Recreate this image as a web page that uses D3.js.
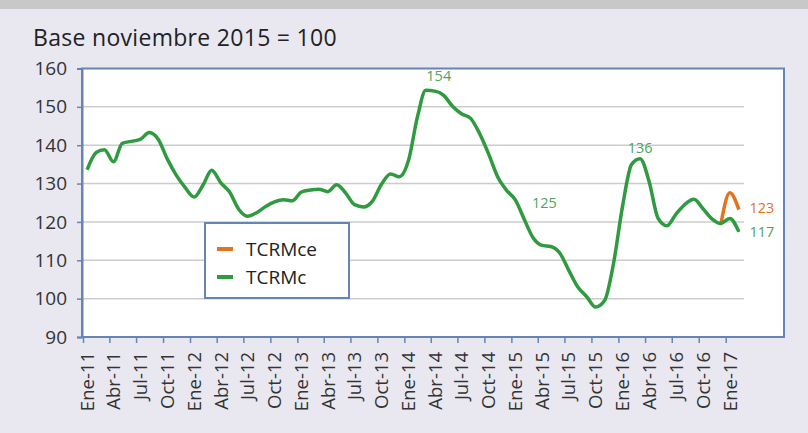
<!DOCTYPE html>
<html>
<head>
<meta charset="UTF-8">
<title>TCRM</title>
<script src="https://cdn.jsdelivr.net/npm/d3@7"></script>
<style>
  body { margin: 0; background: #e9e8f1; }
  svg { display: block; font-family: "Open Sans", sans-serif; }
</style>
</head>
<body>
<script>
// indice mensual, enero 2011 a febrero 2017 (base nov 2015 = 100)
var primerMes = [2011, 0];
var tcrmc = [
  133.6, 138.1, 138.8, 135.7, 140.5, 141.0, 141.5, 143.3, 141.5, 136.5, 132.2, 129.0,
  126.5, 129.7, 133.5, 130.2, 127.8, 123.3, 121.5, 122.4, 124.0, 125.2, 125.8, 125.5,
  127.8, 128.3, 128.5, 127.9, 129.7, 127.5, 124.5, 123.9, 125.5, 129.8, 132.5, 131.8,
  136.0, 147.5, 154.3, 154.1, 153.0, 150.1, 148.2, 147.0, 143.0, 137.8, 131.8, 128.3,
  125.7, 120.5, 116.0, 113.9, 113.6, 111.9, 107.5, 103.1, 100.5, 97.8, 99.5, 109.0,
  124.0, 135.0, 136.5, 130.5, 121.0, 119.0, 122.0, 124.6, 125.9, 123.5, 120.8, 119.6,
  120.9, 117.4
];
// TCRMce: dic-16 a feb-17
var tcrmceInicio = 71;
var tcrmce = [119.2, 127.6, 123.2];

var yTicks = [90, 100, 110, 120, 130, 140, 150, 160];
var xTickLabels = ["Ene-11", "Abr-11", "Jul-11", "Oct-11", "Ene-12", "Abr-12", "Jul-12", "Oct-12",
  "Ene-13", "Abr-13", "Jul-13", "Oct-13", "Ene-14", "Abr-14", "Jul-14", "Oct-14",
  "Ene-15", "Abr-15", "Jul-15", "Oct-15", "Ene-16", "Abr-16", "Jul-16", "Oct-16", "Ene-17"];

// etiquetas de valores: [texto, indice del mes, serie]
var notas = [["154", 38, "c"], ["125", 48, "c"], ["136", 62, "c"], ["123", 73, "ce"], ["117", 73, "c"]];

var verde = "#2f9a3f", verdeTxt = "#52a35a", naranja = "#e4731f", azul = "#6585b6";

function fecha(i) { return new Date(primerMes[0], primerMes[1] + i, 15); }

var W = 808, H = 433;
var svg = d3.select("body").append("svg").attr("width", W).attr("height", H);

svg.append("rect").attr("x", 0).attr("y", 0).attr("width", W).attr("height", 9).attr("fill", "#c8c8c8");

svg.append("text").attr("x", 33).attr("y", 46).attr("font-size", 23).attr("letter-spacing", 0.3)
  .attr("fill", "#222")
  .text("Base noviembre 2015 = 100");

var x = d3.scaleTime()
  .domain([new Date(2011, 0, 1), new Date(2017, 2, 1)])
  .range([83, 743]);
var y = d3.scaleLinear().domain([90, 160]).range([337, 68.5]);

// marco
svg.append("rect").attr("x", 82).attr("y", 68.5).attr("width", 702).attr("height", 268.5)
  .attr("fill", "#fff").attr("stroke", azul).attr("stroke-width", 2);

// lineas de cuadricula
svg.append("g").selectAll("line").data(yTicks.filter(function (d) { return d > 90 && d < 160; }))
  .enter().append("line")
  .attr("x1", 83).attr("x2", 744)
  .attr("y1", function (d) { return y(d); }).attr("y2", function (d) { return y(d); })
  .attr("stroke", "#cccccc").attr("stroke-width", 1.5);

// eje y
var yAxis = svg.append("g").attr("transform", "translate(82,0)")
  .call(d3.axisLeft(y).tickValues(yTicks).tickSize(5).tickPadding(10));
yAxis.select(".domain").attr("stroke", azul).attr("stroke-width", 2);
yAxis.selectAll(".tick line").attr("stroke", azul).attr("stroke-width", 1.5);
yAxis.selectAll("text").attr("font-size", 19).attr("fill", "#333").attr("font-family", "Open Sans");

// eje x
var xTickDates = xTickLabels.map(function (d, i) { return new Date(2011, i * 3, 1); });
var xAxis = svg.append("g").attr("transform", "translate(0,337)")
  .call(d3.axisBottom(x).tickValues(xTickDates).tickSize(6)
    .tickFormat(function (d, i) { return xTickLabels[i]; }));
xAxis.select(".domain").attr("stroke", azul).attr("stroke-width", 2).attr("d", "M82,0H784");
xAxis.selectAll(".tick line").attr("stroke", azul).attr("stroke-width", 1.5);
xAxis.selectAll("text")
  .attr("font-size", 18.5).attr("fill", "#333").attr("font-family", "Open Sans")
  .attr("text-anchor", "end")
  .attr("transform", "rotate(-90)")
  .attr("x", -15).attr("y", 4).attr("dy", "0.35em");

var linea = d3.line()
  .x(function (d) { return x(d[0]); })
  .y(function (d) { return y(d[1]); })
  .curve(d3.curveMonotoneX);

var datosC = tcrmc.map(function (v, i) { return [fecha(i), v]; });
var datosCe = tcrmce.map(function (v, i) { return [fecha(tcrmceInicio + i), v]; });

svg.append("path").datum(datosCe).attr("d", linea)
  .attr("fill", "none").attr("stroke", naranja).attr("stroke-width", 3.5).attr("stroke-linejoin", "round");
svg.append("path").datum(datosC).attr("d", linea)
  .attr("fill", "none").attr("stroke", verde).attr("stroke-width", 3.5).attr("stroke-linejoin", "round");

// etiquetas
var desplaz = { "154": [13, -14], "125": [29, 3], "136": [0, -11], "123": [23, -2], "117": [23, 0] };
svg.append("g").selectAll("text").data(notas).enter().append("text")
  .attr("x", function (d) { return x(fecha(d[1])) + desplaz[d[0]][0]; })
  .attr("y", function (d) {
    var v = d[2] === "c" ? tcrmc[d[1]] : tcrmce[d[1] - tcrmceInicio];
    return y(v) + desplaz[d[0]][1];
  })
  .attr("text-anchor", "middle").attr("dy", "0.35em").attr("font-size", 14.5)
  .attr("fill", function (d) { return d[2] === "c" ? verdeTxt : naranja; })
  .text(function (d) { return d[0]; });

// leyenda
var ley = svg.append("g");
ley.append("rect").attr("x", 205).attr("y", 223).attr("width", 144).attr("height", 75)
  .attr("fill", "#fff").attr("stroke", azul).attr("stroke-width", 2);
var items = [["TCRMce", naranja], ["TCRMc", verde]];
items.forEach(function (it, i) {
  var cy = 249 + i * 28;
  ley.append("line").attr("x1", 217).attr("x2", 233).attr("y1", cy).attr("y2", cy)
    .attr("stroke", it[1]).attr("stroke-width", 4);
  ley.append("text").attr("x", 246).attr("y", cy).attr("dy", "0.35em")
    .attr("font-size", 19).attr("fill", "#222").text(it[0]);
});
</script>
</body>
</html>
